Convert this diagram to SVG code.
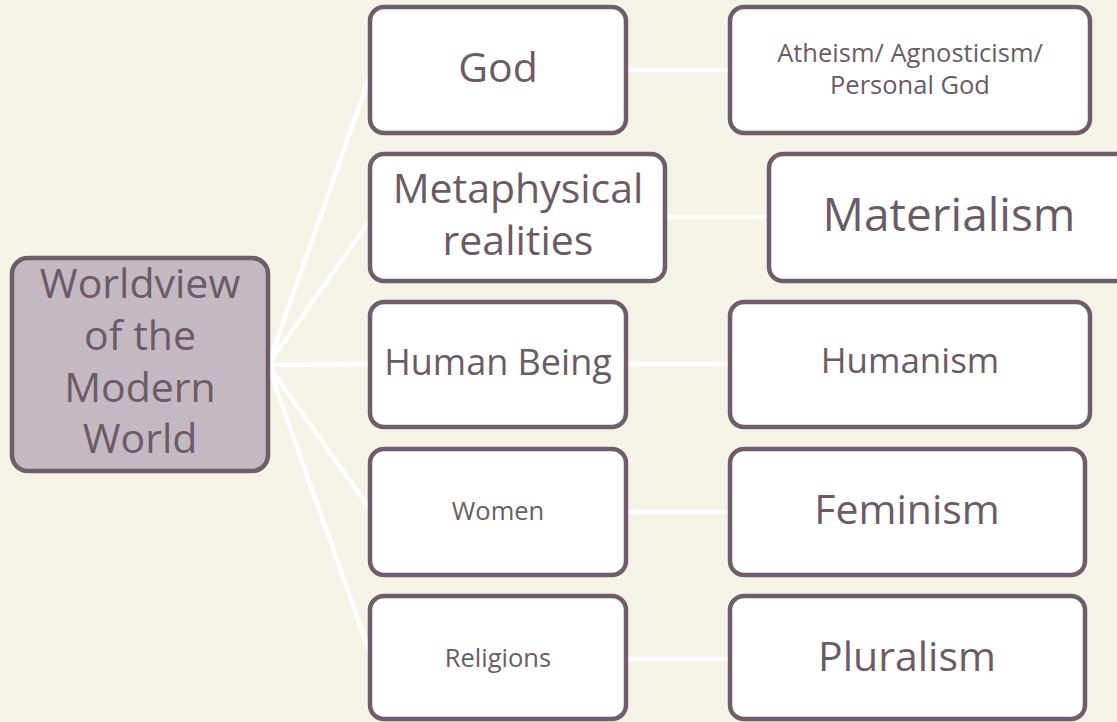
<svg xmlns="http://www.w3.org/2000/svg" width="1117" height="722" viewBox="0 0 1117 722">
<style>
.bg{fill:#f5f3e7}
.node rect{fill:#ffffff;stroke:#6e5e6a;stroke-width:4.5}
.root rect{fill:#c4b8c2}
.node text{font-family:"Open Sans","Noto Sans","Liberation Sans",sans-serif;fill:#6b5b66;text-anchor:middle}
.conn line{stroke:#ffffff;stroke-width:4.5;stroke-linecap:butt}
</style>
<rect class="bg" x="0" y="0" width="1117" height="722"/>
<g id="connectors" class="conn">
<line x1="268" y1="365" x2="372" y2="70"/>
<line x1="268" y1="365" x2="372" y2="217"/>
<line x1="268" y1="365" x2="372" y2="364"/>
<line x1="268" y1="365" x2="372" y2="512"/>
<line x1="268" y1="365" x2="372" y2="659"/>
<line x1="626" y1="70" x2="730" y2="70"/>
<line x1="665" y1="217" x2="769" y2="217"/>
<line x1="626" y1="364" x2="730" y2="364"/>
<line x1="626" y1="512" x2="730" y2="512"/>
<line x1="626" y1="659" x2="730" y2="659"/>
</g>
<g id="root" class="node root">
<rect x="12" y="258" width="256" height="213" rx="16"/>
<text font-size="41"><tspan x="140" y="298">Worldview</tspan><tspan x="140" y="350">of the</tspan><tspan x="140" y="402">Modern</tspan><tspan x="140" y="453">World</tspan></text>
</g>
<g id="god" class="node">
<rect x="370" y="7" width="256" height="126" rx="14"/>
<text x="498" y="82" font-size="41">God</text>
</g>
<g id="metaphysical" class="node">
<rect x="370" y="154" width="295" height="127" rx="14"/>
<text font-size="41"><tspan x="518" y="203">Metaphysical</tspan><tspan x="518" y="255">realities</tspan></text>
</g>
<g id="human-being" class="node">
<rect x="370" y="302" width="256" height="125" rx="14"/>
<text x="498" y="375" font-size="36">Human Being</text>
</g>
<g id="women" class="node">
<rect x="370" y="449" width="256" height="126" rx="14"/>
<text x="498" y="520" font-size="25.5">Women</text>
</g>
<g id="religions" class="node">
<rect x="370" y="596" width="256" height="123" rx="14"/>
<text x="498" y="667" font-size="25.5">Religions</text>
</g>
<g id="atheism" class="node">
<rect x="730" y="7" width="360" height="126" rx="14"/>
<text font-size="25.5"><tspan x="910" y="62">Atheism/ Agnosticism/</tspan><tspan x="910" y="94">Personal God</tspan></text>
</g>
<g id="materialism" class="node">
<rect x="769" y="154" width="364" height="127" rx="14"/>
<text x="949" y="231" font-size="46">Materialism</text>
</g>
<g id="humanism" class="node">
<rect x="730" y="302" width="360" height="125" rx="14"/>
<text x="910" y="373" font-size="35">Humanism</text>
</g>
<g id="feminism" class="node">
<rect x="730" y="449" width="355" height="126" rx="14"/>
<text x="907" y="524" font-size="41">Feminism</text>
</g>
<g id="pluralism" class="node">
<rect x="730" y="596" width="355" height="123" rx="14"/>
<text x="907" y="671" font-size="41">Pluralism</text>
</g>
</svg>
